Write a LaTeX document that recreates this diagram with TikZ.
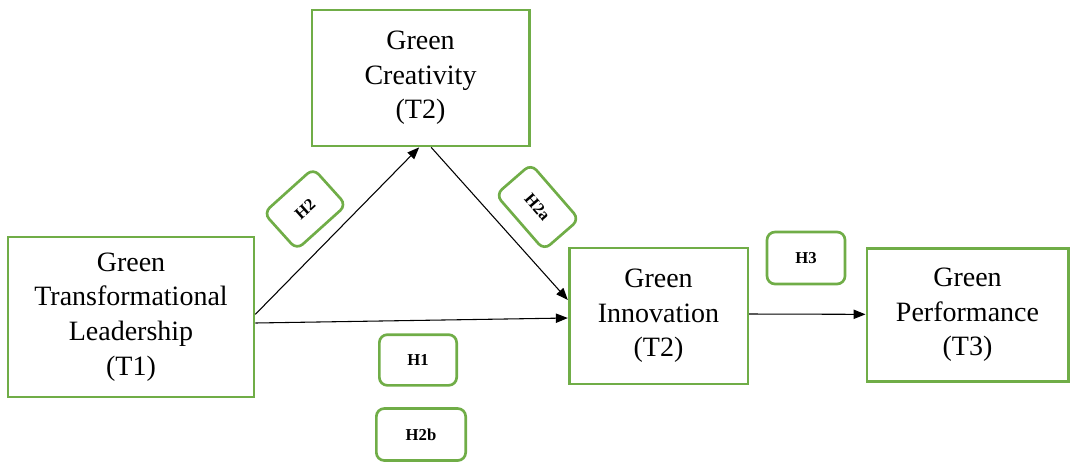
\documentclass[tikz,border=0pt]{standalone}
\usepackage{fontspec}
\setmainfont{Liberation Serif}
\usetikzlibrary{arrows.meta}
\definecolor{grn}{HTML}{70AD47}
\tikzset{>={Triangle[length=9pt,width=7pt]},every node/.style={font=\fontsize{21}{26}\selectfont},
  box/.style={draw=grn,line width=2pt,align=center,inner sep=0pt},
  hyp/.style={draw=grn,line width=2pt,rounded corners=6pt,inner sep=0pt,font=\fontsize{12.5}{14}\selectfont\bfseries},
  link/.style={->,line width=.8pt}}

\begin{document}
\begin{tikzpicture}[x=.75pt,y=-.75pt]
\useasboundingbox (0,0) rectangle (1073,461);
% constructs
\node[box,minimum width=184.5pt,minimum height=120pt] (gtl) at (131,317){Green\\Transformational\\Leadership\\(T1)};
\node[box,minimum width=163pt,minimum height=102pt] (gc) at (420.5,78){Green\\Creativity\\(T2)};
\node[box,minimum width=134pt,minimum height=102pt] (gi) at (658.5,316){Green\\Innovation\\(T2)};
\node[box,minimum width=151pt,minimum height=100pt] (gp) at (967.5,315){Green\\Performance\\(T3)};
% hypotheses
\node[hyp,minimum width=50pt,minimum height=37pt,rotate=42] (h2) at (305,209){H2};
\node[hyp,minimum width=55pt,minimum height=35pt,rotate=-49] (h2a) at (537.5,207){H2a};
\node[hyp,minimum width=58pt,minimum height=38pt] (h1) at (418,360){H1};
\node[hyp,minimum width=67pt,minimum height=39pt] (h2b) at (421,434.5){H2b};
\node[hyp,minimum width=58.5pt,minimum height=39pt] (h3) at (806,258){H3};
% paths
\draw[link] ([yshift=2pt]gtl.east)--([xshift=-1pt]gc.south);
\draw[link] ([xshift=8pt]gc.south)--([yshift=12pt]gi.west);
\draw[link] ([yshift=-4.5pt]gtl.east)--([yshift=-1.5pt]gi.west);
\draw[link] ([yshift=1.5pt]gi.east)--([yshift=0.5pt]gp.west);
\end{tikzpicture}
\end{document}
